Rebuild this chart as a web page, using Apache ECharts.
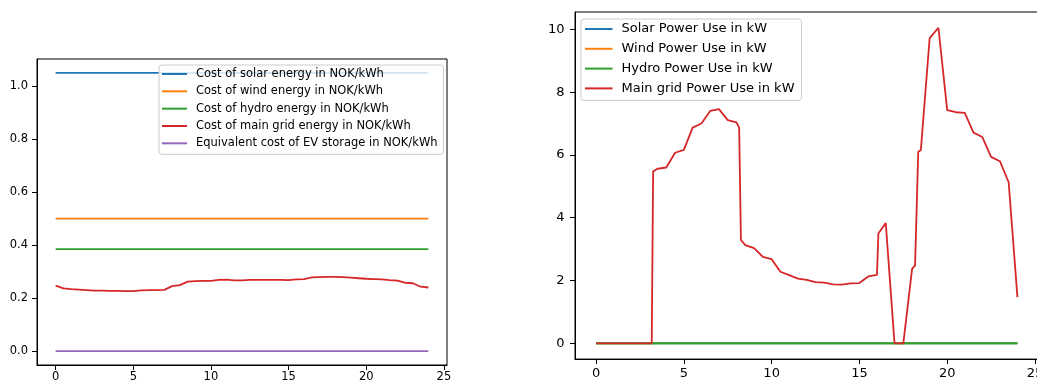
<!DOCTYPE html>
<html>
<head>
<meta charset="utf-8">
<script src="https://cdn.jsdelivr.net/npm/echarts@6/dist/echarts.min.js"></script>
<style>
  html, body { margin: 0; padding: 0; background: #ffffff; }
  #chart { width: 1037px; height: 381px; }
</style>
</head>
<body>
<div id="chart"></div>
<script>
// ---- Energy cost per source (left panel) ----
const costHours = [0, 0.5, 1, 1.5, 2, 2.5, 3, 3.5, 4, 4.5, 5, 5.5, 6, 6.5, 7, 7.5, 8, 8.5, 9, 9.5,
  10, 10.5, 11, 11.5, 12, 12.5, 13, 13.5, 14, 14.5, 15, 15.5, 16, 16.5, 17, 17.5, 18, 18.5, 19, 19.5,
  20, 20.5, 21, 21.5, 22, 22.5, 23, 23.5, 24];
const gridCost = [0.247, 0.237, 0.234, 0.232, 0.230, 0.228, 0.228, 0.227, 0.227, 0.226, 0.226, 0.229,
  0.230, 0.230, 0.231, 0.245, 0.249, 0.262, 0.264, 0.265, 0.265, 0.269, 0.270, 0.267, 0.267, 0.269,
  0.269, 0.269, 0.269, 0.269, 0.268, 0.271, 0.272, 0.278, 0.279, 0.280, 0.280, 0.279, 0.277, 0.275,
  0.273, 0.272, 0.271, 0.268, 0.266, 0.258, 0.256, 0.243, 0.240];
const flatHours = [0, 24];
const solarCost = [1.05, 1.05];
const windCost = [0.5, 0.5];
const hydroCost = [0.385, 0.385];
const evCost = [0, 0];

// ---- Power use per source (right panel) ----
const useHours = [0, 0.5, 1, 1.5, 2, 2.5, 3, 3.17, 3.25, 3.5, 4, 4.5, 5, 5.5, 6, 6.5, 7, 7.5, 8, 8.15,
  8.25, 8.5, 9, 9.5, 10, 10.5, 11, 11.5, 12, 12.5, 13, 13.5, 14, 14.5, 15, 15.5, 16, 16.08, 16.5, 17,
  17.5, 18, 18.17, 18.35, 18.5, 19, 19.5, 20, 20.5, 21, 21.5, 22, 22.5, 23, 23.5, 24];
const gridUse = [0, 0, 0, 0, 0, 0, 0, 0, 5.47, 5.56, 5.6, 6.07, 6.16, 6.87, 7.0, 7.4, 7.46, 7.11, 7.04, 6.87,
  3.29, 3.13, 3.03, 2.75, 2.68, 2.28, 2.17, 2.06, 2.02, 1.95, 1.93, 1.88, 1.87, 1.91, 1.92, 2.13, 2.18, 3.5, 3.83, 0,
  0, 2.37, 2.48, 6.1, 6.16, 9.72, 10.05, 7.43, 7.36, 7.34, 6.71, 6.57, 5.94, 5.8, 5.13, 1.47];
const solarUse = [0, 0];
const windUse = [0, 0];
const hydroUse = [0, 0];

// ---- Tick labels ----
const hourTicks = [0, 5, 10, 15, 20, 25];
const costTicks = [0, 0.2, 0.4, 0.6, 0.8, 1.0];
const useTicks = [0, 2, 4, 6, 8, 10];

const costNames = ['Cost of solar energy in NOK/kWh', 'Cost of wind energy in NOK/kWh',
  'Cost of hydro energy in NOK/kWh', 'Cost of main grid energy in NOK/kWh',
  'Equivalent cost of EV storage in NOK/kWh'];
const useNames = ['Solar Power Use in kW', 'Wind Power Use in kW', 'Hydro Power Use in kW',
  'Main grid Power Use in kW'];

const C = { blue: '#1f77b4', orange: '#ff7f0e', green: '#2ca02c', red: '#d62728', purple: '#9467bd' };
const FONT = 'DejaVu Sans';

function pairs(xs, ys) { return xs.map((x, i) => [x, ys[i]]); }

function lineSeries(name, data, color, axis, width) {
  return {
    name, type: 'line', data, color,
    xAxisIndex: axis, yAxisIndex: axis,
    showSymbol: false, symbol: 'none',
    lineStyle: { width: width || 1.8, color },
    emphasis: { disabled: true },
    animation: false
  };
}

function valueAxis(grid, min, max, ticks, fontSize, margin, fmt) {
  return {
    type: 'value', gridIndex: grid, min, max,
    splitLine: { show: false },
    axisLine: { show: true, onZero: false, lineStyle: { color: '#000', width: 1 } },
    axisTick: { show: true, inside: false, length: 5, customValues: ticks, lineStyle: { color: '#000', width: 1 } },
    axisLabel: {
      customValues: ticks, margin, color: '#000', fontFamily: FONT, fontSize,
      formatter: fmt
    }
  };
}

function legendBox(left, top, names, fontSize, lineHeight, gap, handle, padding) {
  return {
    orient: 'vertical', left, top, data: names,
    icon: 'rect', itemWidth: handle, itemHeight: 2, itemGap: gap,
    backgroundColor: 'rgba(255,255,255,0.8)', borderColor: '#cccccc', borderWidth: 1, borderRadius: 3,
    padding,
    selectedMode: false,
    textStyle: { fontFamily: FONT, fontSize, color: '#000', lineHeight, padding: [0, 0, 0, 4] }
  };
}

const chart = echarts.init(document.getElementById('chart'), null, { renderer: 'canvas' });
chart.setOption({
  animation: false,
  backgroundColor: '#ffffff',
  grid: [
    { left: 37, top: 59, width: 410, height: 306, outerBoundsMode: 'none', containLabel: false,
      show: true, borderColor: '#000', borderWidth: 1, backgroundColor: 'transparent' },
    { left: 575, top: 12, width: 463.5, height: 347.1, outerBoundsMode: 'none', containLabel: false,
      show: true, borderColor: '#000', borderWidth: 1, backgroundColor: 'transparent' }
  ],
  xAxis: [
    valueAxis(0, -1.2, 25.2, hourTicks, 11.5, 6, v => String(v)),
    valueAxis(1, -1.2, 25.2, hourTicks, 13, 8, v => String(v))
  ],
  yAxis: [
    valueAxis(0, -0.0525, 1.1025, costTicks, 11.5, 9, v => v.toFixed(1)),
    valueAxis(1, -0.5025, 10.5525, useTicks, 13, 10.5, v => String(v))
  ],
  legend: [
    legendBox(159, 65, costNames, 11.5, 14, 3.33, 25, [2, 6, 4, 3]),
    legendBox(581, 19, useNames, 13, 16, 3.8, 27.5, [2, 7, 4, 4])
  ],
  series: [
    lineSeries(costNames[0], pairs(flatHours, solarCost), C.blue, 0),
    lineSeries(costNames[1], pairs(flatHours, windCost), C.orange, 0),
    lineSeries(costNames[2], pairs(flatHours, hydroCost), C.green, 0),
    lineSeries(costNames[3], pairs(costHours, gridCost), C.red, 0),
    lineSeries(costNames[4], pairs(flatHours, evCost), C.purple, 0),
    lineSeries(useNames[0], pairs(flatHours, solarUse), C.blue, 1, 1.4),
    lineSeries(useNames[1], pairs(flatHours, windUse), C.orange, 1, 1.4),
    lineSeries(useNames[2], pairs(flatHours, hydroUse), C.green, 1, 2.2),
    lineSeries(useNames[3], pairs(useHours, gridUse), C.red, 1)
  ]
});
</script>
</body>
</html>
